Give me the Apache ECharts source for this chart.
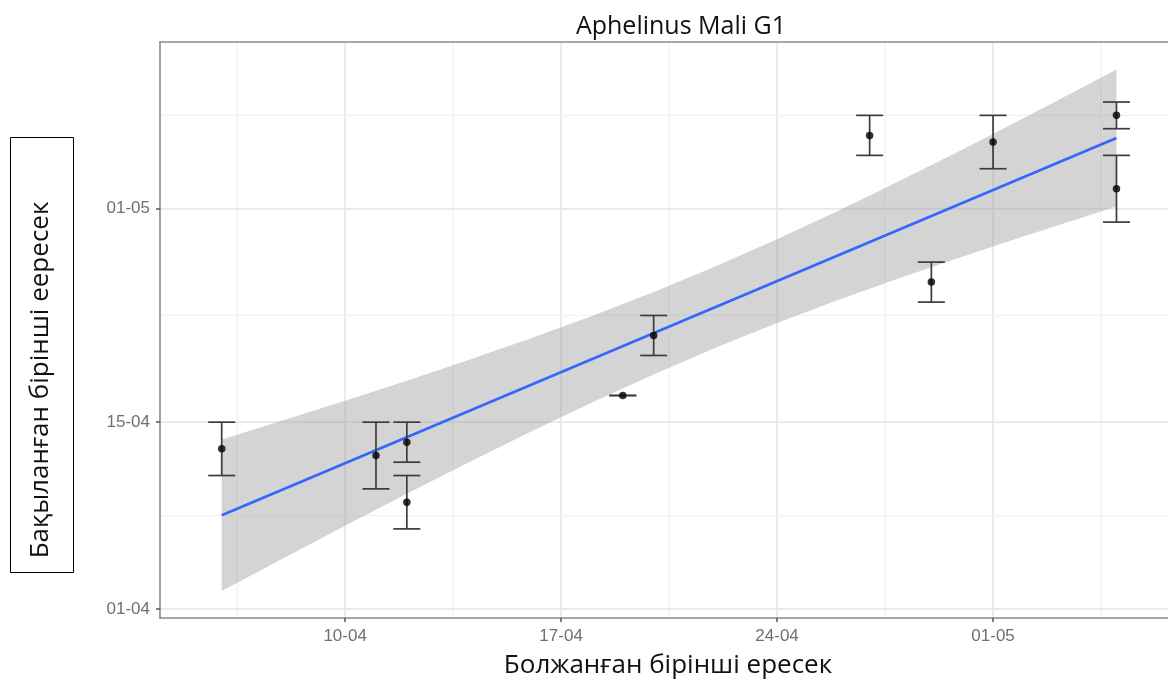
<!DOCTYPE html>
<html>
<head>
<meta charset="utf-8">
<script src="https://cdn.jsdelivr.net/npm/echarts@6/dist/echarts.min.js"></script>
<style>
html,body{margin:0;padding:0;background:#fff;}
#chart{width:1168px;height:680px;}
</style>
</head>
<body>
<div id="chart"></div>
<script>
// Days counted from 1 April (01-04 = 0)
const titleText = 'Aphelinus Mali G1';
const xTitle = 'Болжанған бірінші ересек';
const yTitle = 'Бақыланған бірінші еересек';

const xTickVals = [9, 16, 23, 30];
const xTickLabels = ['10-04', '17-04', '24-04', '01-05'];
const yTickVals = [0, 14, 30];
const yTickLabels = ['01-04', '15-04', '01-05'];
const xMinorVals = [5.5, 12.5, 19.5, 26.5, 33.5];
const yMinorVals = [7, 22, 37];

// observed points (predicted x, observed y, error bar low/high)
const obsX    = [5, 10, 11, 11, 18, 19, 26, 28, 30, 34, 34];
const obsY    = [12, 11.5, 12.5, 8, 16, 20.5, 35.5, 24.5, 35, 37, 31.5];
const obsLow  = [10, 9, 11, 6, 16, 19, 34, 23, 33, 36, 29];
const obsHigh = [14, 14, 14, 10, 16, 22, 37, 26, 37, 38, 34];

// fitted line
const fitX = [5, 34];
const fitY = [7.02, 35.3];

// confidence band
const bandX     = [5, 7, 9, 11, 13, 15, 17, 19, 21, 23, 25, 27, 29, 31, 33, 34];
const bandLower = [1.34, 3.80, 6.24, 8.63, 10.98, 13.27, 15.48, 17.58, 19.57, 21.43, 23.18, 24.83, 26.41, 27.94, 29.42, 30.16];
const bandUpper = [12.70, 14.14, 15.60, 17.11, 18.66, 20.27, 21.96, 23.76, 25.67, 27.71, 29.86, 32.11, 34.43, 36.80, 39.22, 40.44];

const chart = echarts.init(document.getElementById('chart'), null, {renderer: 'canvas'});

const gridData = [];
xTickVals.forEach(v => gridData.push([v, 0, 1]));
xMinorVals.forEach(v => gridData.push([v, 0, 0]));
yTickVals.forEach(v => gridData.push([v, 1, 1]));
yMinorVals.forEach(v => gridData.push([v, 1, 0]));

const bandData = bandX.map((x, i) => [x, bandLower[i], bandUpper[i]]);
const errData = obsX.map((x, i) => [x, obsLow[i], obsHigh[i]]);
const ptData = obsX.map((x, i) => [x, obsY[i]]);
const fitData = fitX.map((x, i) => [x, fitY[i]]);

const axisColor = '#8a8a8a';
const labelColor = '#6f6f6f';
const X_MIN = 3, X_MAX = 35.67;

const option = {
  backgroundColor: '#ffffff',
  animation: false,
  grid: {
    left: 160, top: 42, right: 0, bottom: 62,
    show: false
  },
  xAxis: [{
    type: 'value', min: X_MIN, max: X_MAX,
    axisLine: {show: true, onZero: false, lineStyle: {color: axisColor, width: 1.6}},
    axisTick: {show: true, customValues: xTickVals, length: 4, lineStyle: {color: '#555', width: 1.5}},
    axisLabel: {
      customValues: xTickVals, margin: 10,
      formatter: v => xTickLabels[xTickVals.indexOf(v)],
      color: labelColor, fontSize: 17, fontFamily: 'Liberation Sans, Arial, sans-serif'
    },
    splitLine: {show: false}
  }, {
    type: 'value', position: 'top', min: X_MIN, max: X_MAX,
    axisLine: {show: true, onZero: false, lineStyle: {color: axisColor, width: 1.6}},
    axisTick: {show: false}, axisLabel: {show: false}, splitLine: {show: false}
  }],
  yAxis: {
    type: 'value', min: -0.68, max: 42.5,
    axisLine: {show: true, onZero: false, lineStyle: {color: axisColor, width: 1.6}},
    axisTick: {show: true, customValues: yTickVals, length: 4, lineStyle: {color: '#555', width: 1.5}},
    axisLabel: {
      customValues: yTickVals, margin: 10,
      formatter: v => yTickLabels[yTickVals.indexOf(v)],
      color: labelColor, fontSize: 17, fontFamily: 'Liberation Sans, Arial, sans-serif'
    },
    splitLine: {show: false}
  },
  graphic: [
    {type: 'text', style: {
      text: titleText, x: 681, y: 27, textAlign: 'center', textVerticalAlign: 'middle',
      fill: '#111', font: '25px "Open Sans", sans-serif'}},
    {type: 'text', style: {
      text: xTitle, x: 668, y: 666, textAlign: 'center', textVerticalAlign: 'middle',
      fill: '#111', font: '26px "Open Sans", sans-serif'}},
    {type: 'rect', shape: {x: 10.5, y: 137.5, width: 63, height: 435},
      style: {fill: '#fff', stroke: '#000', lineWidth: 1}},
    {type: 'text', x: 41, y: 380, rotation: Math.PI / 2, style: {
      text: yTitle, x: 0, y: 0, textAlign: 'center', textVerticalAlign: 'middle',
      fill: '#111', font: '26px "Open Sans", sans-serif'}}
  ],
  series: [
    {
      type: 'custom', name: 'grid', silent: true, z: 0,
      data: gridData,
      renderItem: function (params, api) {
        const cs = params.coordSys;
        const v = api.value(0), isY = api.value(1), major = api.value(2);
        const style = {stroke: major ? '#e9e9e9' : '#f2f2f2', lineWidth: major ? 1.8 : 1.2};
        if (isY) {
          const p = api.coord([X_MIN, v]);
          return {type: 'line', shape: {x1: cs.x, y1: p[1], x2: cs.x + cs.width, y2: p[1]}, style: style};
        } else {
          const p = api.coord([v, 0]);
          return {type: 'line', shape: {x1: p[0], y1: cs.y, x2: p[0], y2: cs.y + cs.height}, style: style};
        }
      }
    },
    {
      type: 'custom', name: 'band', silent: true, z: 1,
      data: bandData,
      renderItem: function (params, api) {
        if (params.dataIndex !== 0) return null;
        const pts = [];
        for (let i = 0; i < bandX.length; i++) pts.push(api.coord([bandX[i], bandUpper[i]]));
        for (let i = bandX.length - 1; i >= 0; i--) pts.push(api.coord([bandX[i], bandLower[i]]));
        return {type: 'polygon', shape: {points: pts}, style: {fill: 'rgba(153,153,153,0.42)'}};
      }
    },
    {
      type: 'line', name: 'fit', data: fitData, z: 2, silent: true,
      showSymbol: false, symbol: 'none',
      lineStyle: {color: '#3366FF', width: 2.6}
    },
    {
      type: 'custom', name: 'err', silent: true, z: 3,
      data: errData,
      encode: {x: 0, y: [1, 2]},
      renderItem: function (params, api) {
        const x = api.value(0);
        const lo = api.coord([x, api.value(1)]);
        const hi = api.coord([x, api.value(2)]);
        const hw = 13.5;
        const st = {stroke: '#3c3c3c', lineWidth: 1.7};
        return {type: 'group', children: [
          {type: 'line', shape: {x1: lo[0], y1: lo[1], x2: hi[0], y2: hi[1]}, style: st},
          {type: 'line', shape: {x1: lo[0] - hw, y1: lo[1], x2: lo[0] + hw, y2: lo[1]}, style: st},
          {type: 'line', shape: {x1: hi[0] - hw, y1: hi[1], x2: hi[0] + hw, y2: hi[1]}, style: st}
        ]};
      }
    },
    {
      type: 'scatter', name: 'obs', data: ptData, z: 4, silent: true,
      symbol: 'circle', symbolSize: 7.5,
      itemStyle: {color: '#000'}
    }
  ]
};
chart.setOption(option);
</script>
</body>
</html>
